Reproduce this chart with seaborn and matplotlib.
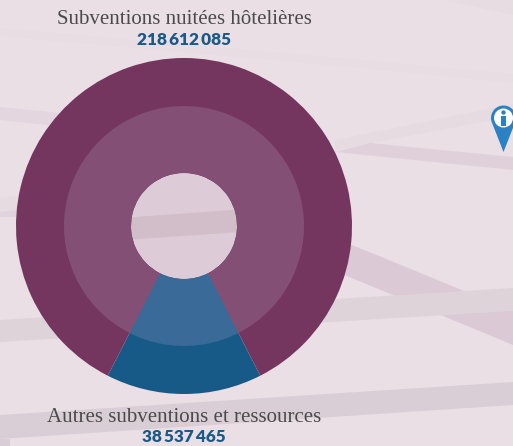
import matplotlib
matplotlib.use('Agg')
import matplotlib.pyplot as plt
from matplotlib.patches import Circle, Polygon, Rectangle
import seaborn as sns

# Data
labels = ['Autres subventions et ressources', 'Subventions nuitées hôtelières']
values = [38537465, 218612085]
value_labels = ['38\u2009537\u2009465', '218\u2009612\u2009085']

sns.set_theme(style='white')
outer_colors = sns.color_palette(['#175a87', '#74365f'])
inner_colors = sns.color_palette(['#3a6a98', '#834f75'])

W, H = 513, 446
fig = plt.figure(figsize=(W / 100, H / 100), dpi=100, facecolor='#ebdfe6')

# background map, in pixels
bg = fig.add_axes([0, 0, 1, 1])
bg.set_xlim(0, W)
bg.set_ylim(H, 0)
bg.axis('off')

streets = [
    ('#e8dce3', [(445, 0), (513, 0), (513, 15)]),
    ('#e9dde4', [(0, 28), (330, 57), (513, 74), (513, 83), (330, 65), (0, 36)]),
    ('#e4d6df', [(0, 107), (150, 122), (150, 136), (0, 120)]),
    ('#e7dbe2', [(335, 140), (513, 104), (513, 116), (335, 150)]),
    ('#e0d0da', [(370, 143), (513, 157), (513, 170), (335, 152)]),
    ('#e7dbe2', [(0, 198), (60, 190), (60, 205), (0, 212)]),
    ('#e0d3db', [(0, 212), (60, 205), (60, 217), (0, 217)]),
    ('#ddcfd7', [(80, 221), (300, 205), (300, 228), (80, 243)]),
    ('#dbc9d5', [(300, 223), (352, 245), (513, 311), (513, 345), (347, 276), (300, 256)]),
    ('#ddd3d9', [(0, 320), (513, 288), (513, 311), (0, 342)]),
    ('#d9ced5', [(0, 415), (513, 382), (513, 405), (0, 439)]),
    ('#d9ced5', [(0, 439), (10, 439), (10, 446), (0, 446)]),
]
for color, pts in streets:
    bg.add_patch(Polygon(pts, closed=True, fc=color, ec='none'))

# info pin
pin = '#2a82c4'
bg.add_patch(Polygon([(492.5, 124), (503.5, 152), (514.5, 124)], fc=pin, ec='none'))
bg.add_patch(Circle((503.5, 118), 12.5, fc=pin, ec='none'))
bg.add_patch(Circle((503.5, 118), 9.5, fc='white', ec='none'))
bg.add_patch(Circle((503.5, 112.5), 2.2, fc=pin, ec='none'))
bg.add_patch(Rectangle((501, 116), 5, 9.5, fc=pin, ec='none'))

# donut
cx, cy, R = 184, 226, 168
ax = fig.add_axes([(cx - R) / W, 1 - (cy + R) / H, 2 * R / W, 2 * R / H])
ax.patch.set_alpha(0)
start = 270 - 180 * values[0] / sum(values)
ax.pie(values, colors=outer_colors, radius=1, startangle=start,
       wedgeprops=dict(width=115 / R, linewidth=0))
ax.pie(values, colors=inner_colors, radius=120 / R, startangle=start,
       wedgeprops=dict(width=67 / R, linewidth=0))
ax.add_patch(Circle((0, 0), 53 / R, fc='#74365f', alpha=0.11, ec='none'))
ax.set_xlim(-1, 1)
ax.set_ylim(-1, 1)

serif = dict(family='Liberation Serif', fontsize=15, color='#4a4a4a', ha='center', va='baseline')
bold = dict(family='Lato', fontsize=12.4, fontweight='heavy', color='#1a5a88', ha='center', va='baseline')
bg.text(184, 24, labels[1], **serif)
bg.text(184, 45, value_labels[1], **bold)
bg.text(184, 421.5, labels[0], **serif)
bg.text(184, 442, value_labels[0], **bold)

fig.savefig('out.png', dpi=100, facecolor=fig.get_facecolor())
